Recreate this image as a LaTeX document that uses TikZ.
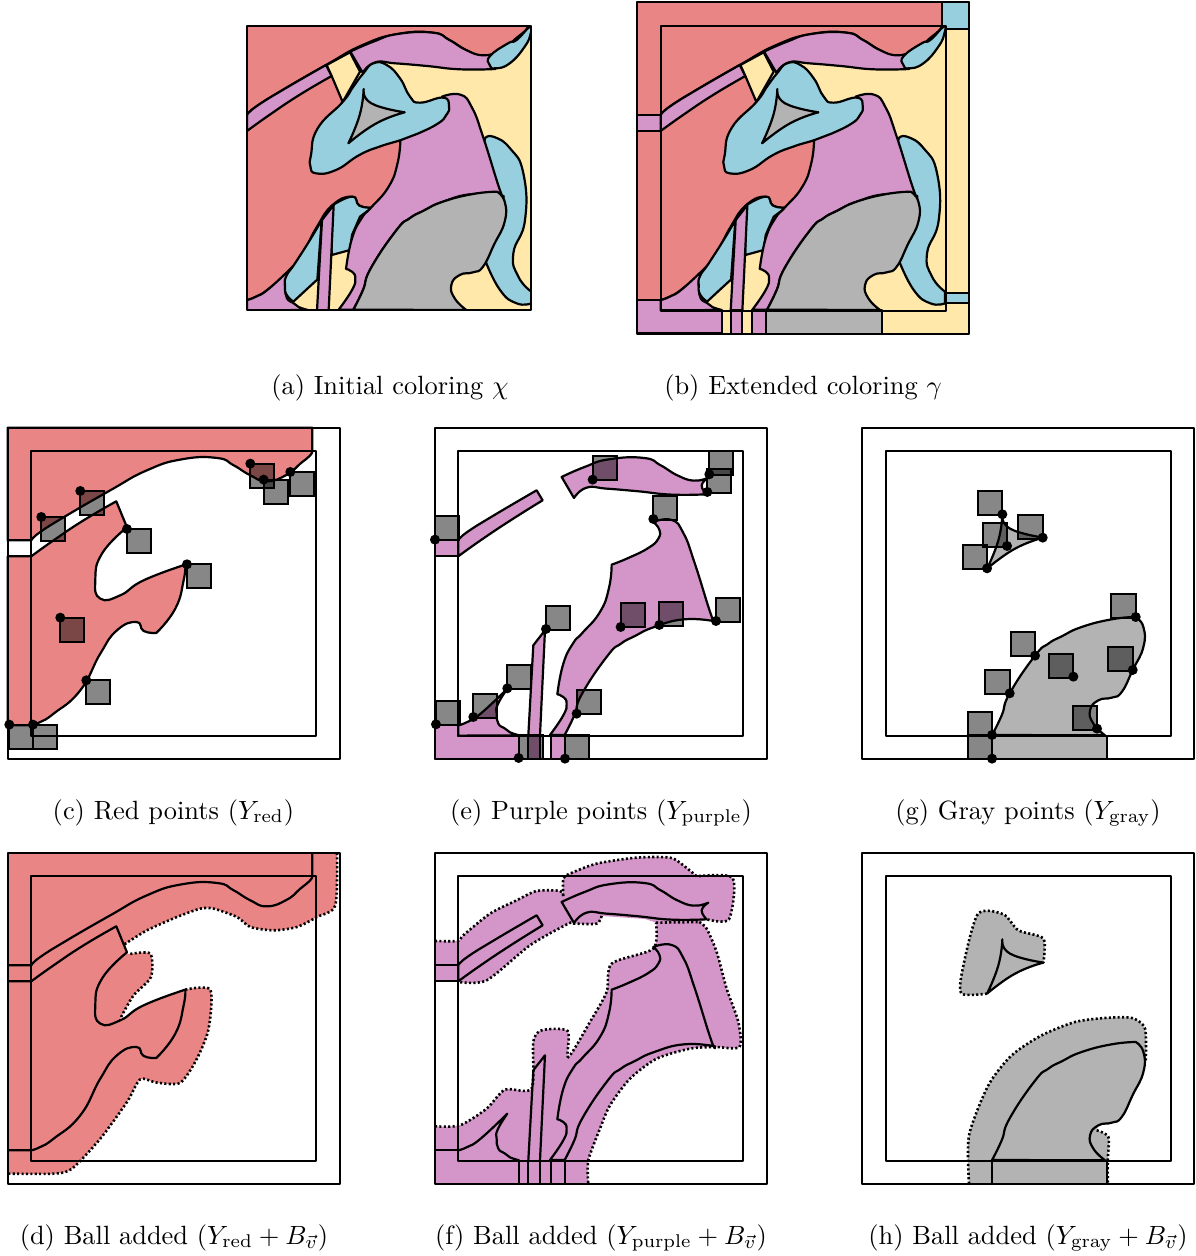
\documentclass[tikz,border=0pt]{standalone}
\usepackage{amsmath}
\definecolor{cR}{HTML}{EA8585}
\definecolor{cP}{HTML}{D495C8}
\definecolor{cB}{HTML}{98CFDE}
\definecolor{cY}{HTML}{FFE8AA}
\definecolor{cG}{HTML}{B3B3B3}
\tikzset{
  panel/.style 2 args={shift={(#1,#2)},x=0.166667pt,y=-0.166667pt},
  ln/.style={draw=black,line width=1.1pt,line join=round},
  dotl/.style={draw=black,line width=1.3pt,dash pattern=on 1.05pt off 1.15pt},
  sqr/.style={fill=black,fill opacity=.47,draw=black,line width=1.1pt},
  capt/.style={anchor=base,inner sep=0pt},
}
\newcommand\pth[2]{\edef\tmpp{\noexpand\path[#1] #2;}\tmpp}
\newcommand\sm[1]{plot[smooth,tension=.85] coordinates {#1}}
\newcommand\sd[1]{plot[smooth,tension=.45] coordinates {#1}}
% shared boundary curves (local units: 1/3 px, origin = inner square corner)
\newcommand\Ca{\sm{(843,0)(835,14)(807,37)(767,70)(707,90)(657,72)(607,42)(557,20)(452,24)(347,57)(237,117)(107,192)(27,242)(0,267)}}
\newcommand\Cb{\sm{(0,315)(67,267)(157,207)(255,150)}}
\newcommand\Cc{\sm{(287,228)(212,307)(192,387)(207,442)(267,432)(337,387)(462,340)}}
\newcommand\Cd{\sm{(462,340)(457,387)(432,472)(375,545)}}
\newcommand\Ce{\sm{(375,545)(337,539)(315,512)(257,537)(207,607)(147,717)(67,787)(27,812)(0,822)}}
\newcommand\Band{\sm{(0,267)(27,242)(107,192)(237,117)} -- (254,150) -- \sm{(254,150)(157,207)(67,267)(0,315)} -- cycle}
\newcommand\BandE{\sm{(0,267)(27,242)(107,192)(235,117)} -- (253,147) -- \sm{(253,147)(157,207)(67,267)(0,315)} -- cycle}
\newcommand\TopP{\sm{(310,77)(379,47)(452,24)(557,20)(607,42)(657,72)(707,88)(750,79)} -- \sm{(750,79)(730,102)(745,129)} -- \sm{(745,129)(640,130)(540,120)(445,112)(385,109)(347,140)} -- cycle}
\newcommand\MainP{\sm{(319,851)(348,792)(372,726)(448,613)(488,577)(528,555)(588,527)(678,504)(770,510)} -- \sm{(770,510)(758,490)(708,332)(675,245)(640,206)(585,212)} -- \sm{(585,212)(603,235)(600,262)(570,290)(510,320)(460,340)} -- \sm{(460,340)(452,410)(425,482)(372,545)(345,575)(315,637)(297,729)} -- \sm{(297,729)(315,737)(325,757)(315,792)(275,851)} -- cycle}
\newcommand\LowP{\sm{(0,822)(27,812)(67,787)(147,712)} -- \sm{(147,712)(118,760)(115,787)(120,817)(139,831)(155,843)(183,852)} -- (0,853) -- cycle}
\newcommand\Strip{(225,582) -- (260,537) -- (245,853) -- (210,853) -- cycle}
\newcommand\Gy{\sm{(319,851)(348,792)(372,726)(448,613)(488,577)(528,555)(588,527)(678,504)(750,497)} -- \sm{(750,497)(773,527)(773,587)(741,656)(708,722)(678,739)(638,747)(613,777)(623,817)(658,852)} -- cycle}
\newcommand\TriA{\sm{(350,189)(373,232)(473,259)}}
\newcommand\TriB{\sm{(473,259)(388,292)(304,352)}}
\newcommand\TriC{\sm{(304,352)(338,267)(350,189)}}
\newcommand\Tri{\TriA -- \TriB -- \TriC -- cycle}
\newcommand\RedOne{(-71,-71) -- (843,-71) -- (843,0) -- \Ca -- (-71,267) -- cycle}
\newcommand\RedTwo{(-71,315) -- (0,315) -- \Cb -- (287,228) -- \Cc -- \Cd -- \Ce -- (-71,822) -- cycle}
\newcommand\LeftFoot{(-71,822) -- (0,822) -- (0,853) -- (183,853) -- (183,922) -- (-71,922) -- cycle}
\newcommand\Frames{\draw[ln] (0,0) rectangle (855,855); \draw[ln] (-71,-71) rectangle (925,923);}
\newcommand\BasePieces{%
  \pth{fill=cR}{\RedOne}
  \pth{fill=cR}{\RedTwo}
  \pth{ln}{\Ca}
  \pth{ln}{\Ce}
  \pth{ln,fill=cP}{\Band}
  \filldraw[ln,fill=cY] (239,117) -- (309,79) -- (339,137) -- (287,228) -- (254,150) -- cycle;
  \pth{ln,fill=cP}{\TopP}
  \pth{ln,fill=cP}{\LowP}
  \pth{ln,fill=cB}{\sm{(714,337)(739,332)(789,367)(829,442)(834,582)(799,682)(814,752)(853,797)} -- (853,832) -- \sm{(853,832)(809,832)(759,792)(714,702)} -- (700,600) -- (700,400) -- cycle}
  \pth{ln,fill=cB}{\sm{(224,582)(190,640)(144,712)(118,750)(114,778)(118,805)(139,827)} -- \sm{(139,827)(204,767)(211,762)} -- cycle}
  \pth{ln,fill=cB}{\sm{(253,540)(315,512)(337,539)(375,545)} -- (339,572) -- (315,627) -- (309,672) -- (254,687) -- cycle}
  \pth{ln,fill=cP}{\MainP}
  \pth{ln,fill=cG}{\Gy}
  \pth{ln,fill=cP}{\Strip}
  \filldraw[ln,fill=cB] plot[smooth cycle,tension=.85] coordinates {(349,142)(379,112)(419,117)(459,157)(489,212)(519,230)(589,215)(606,242)(597,268)(572,293)(512,323)(462,342)(400,361)(337,387)(267,432)(207,442)(190,420)(192,387)(212,307)(287,228)(319,182)};
  \pth{ln,fill=cG}{\Tri}
  \filldraw[ln,fill=cB] plot[smooth cycle,tension=.85] coordinates {(849,2)(809,42)(783,52)(729,90)(728,117)(745,127)(788,112)(833,62)(851,22)};
}
\begin{document}
\begin{tikzpicture}[x=0.5pt,y=-0.5pt]
\path (0,0) rectangle (1195,1256);
%% (a)
\begin{scope}[panel={247}{26}]
  \fill[cY] (0,0) rectangle (853,853);
  \begin{scope}
    \clip (0,0) rectangle (853,853);
    \BasePieces
  \end{scope}
  \draw[ln] (0,0) rectangle (853,853);
\end{scope}
%% (b)
\begin{scope}[panel={660.7}{26}]
  \fill[cY] (-71,-71) rectangle (925,923);
  \filldraw[ln,fill=cB] (843,-71) rectangle (925,10);
  \filldraw[ln,fill=cB] (853,802) rectangle (925,830);
  \filldraw[ln,fill=cP] (-71,267) rectangle (0,315);
  \pth{ln,fill=cP}{\LeftFoot}
  \filldraw[ln,fill=cP] (210,853) rectangle (245,923);
  \filldraw[ln,fill=cP] (274,853) rectangle (316,923);
  \filldraw[ln,fill=cG] (316,853) rectangle (663,923);
  \draw[ln] (853,10) -- (925,10);
  \BasePieces
  \draw[ln] (-71,822) -- (0,822);
  \draw[ln] (843,-71) -- (843,0);
  \draw[ln] (-71,267) -- (0,267);
  \draw[ln] (-71,315) -- (0,315);
  \Frames
\end{scope}
%% (c)
\begin{scope}[panel={31.3}{451.3}]
  \pth{ln,fill=cR}{\RedOne}
  \pth{ln,fill=cR}{\RedTwo}
  \Frames
  \foreach \x/\y in {123/290,240/212,380/326,560/432,180/592,258/780,27/913,98/913,750/130,790/178,870/155}{
    \draw[sqr] ({\x-93},{\y-93}) rectangle ++(72,72);
  }
  \foreach \x/\y in {123/290,240/212,380/326,560/432,180/592,258/780,27/913,98/913,750/130,790/178,870/155}{
    \fill ({\x-93},{\y-93}) circle[radius=15];
  }
\end{scope}
%% (e)
\begin{scope}[panel={458.3}{451.3}]
  \filldraw[ln,fill=cP] (-71,267) rectangle (0,315);
  \pth{ln,fill=cP}{\LeftFoot}
  \filldraw[ln,fill=cP] (210,853) rectangle (245,923);
  \filldraw[ln,fill=cP] (277,853) rectangle (320,923);
  \pth{ln,fill=cP}{\BandE}
  \pth{ln,fill=cP}{\TopP}
  \pth{ln,fill=cP}{\LowP}
  \pth{ln,fill=cP}{\MainP}
  \filldraw[ln,fill=cP] (225,582) -- (260,537) -- (245,853) -- (210,853) -- cycle;
  \Frames
  \foreach \x/\y in {488/178,838/165,832/217,670/298,15/360,572/620,688/616,858/604,348/628,232/806,130/892,18/914,440/882,266/1015,405/1017}{
    \draw[sqr] ({\x-85},{\y-93}) rectangle ++(72,-72);
  }
  \foreach \x/\y in {488/178,838/162,832/215,670/296,15/358,572/620,688/614,858/602,348/626,232/804,130/890,18/912,440/880,266/1013,405/1015}{
    \fill ({\x-85},{\y-93}) circle[radius=15];
  }
\end{scope}
%% (g)
\begin{scope}[panel={885.7}{451.3}]
  \filldraw[ln,fill=cG] (319,853) rectangle (665,923);
  \pth{ln,fill=cG}{\Gy}
  \pth{ln,fill=cG}{\Tri}
  \Frames
  \foreach \x/\y in {442/284,563/356,456/380,396/446,842/592,540/708,655/772,833/752,464/822,726/928,411/946,411/1017}{
    \draw[sqr] ({\x-92},{\y-93}) rectangle ++(-73,-72);
  }
  \foreach \x/\y in {442/282,563/352,456/377,396/444,842/590,540/706,655/769,833/749,464/819,726/925,411/944,411/1015}{
    \fill ({\x-92},{\y-93}) circle[radius=15];
  }
\end{scope}
%% (d)
\begin{scope}[panel={31.3}{876.3}]
  \newcommand\DA{\sd{(917,-70)(912,87)(857,122)(797,152)(727,162)(657,152)(617,122)(547,97)(507,97)(437,122)(347,162)(278,205)}}
  \newcommand\DB{\sd{(297,233)(357,232)(359,302)(307,357)(272,417)(267,432)}}
  \newcommand\DC{\sd{(462,340)(537,340)(532,457)(497,547)(447,619)(377,619)(327,609)(287,677)(207,787)(122,877)(67,892)(-68,892)}}
  \pth{fill=cR}{(-71,-71) -- \DA -- (287,232) -- \DB -- (337,387) -- \DC -- cycle}
  \pth{dotl}{\DA} \pth{dotl}{\DB} \pth{dotl}{\DC}
  \pth{ln}{(843,-71) -- (843,0) -- \Ca -- (-71,267)}
  \pth{ln}{(-71,315) -- (0,315) -- \Cb -- (287,228) -- \Cc -- \Cd -- \Ce -- (-71,822)}
  \Frames
\end{scope}
%% (f)
\begin{scope}[panel={458.3}{876.3}]
  \newcommand\FA{\sd{(-70,194)(0,194)(15,177)(95,112)(175,72)(235,44)(305,44)(315,62)} -- \sd{(315,62)(315,7)(335,-8)(415,-38)(535,-56)(635,-56)(675,-33)(715,0)} -- \sd{(715,0)(823,5)(812,129)(745,129)}}
  \newcommand\FB{\sd{(723,137)(745,157)(775,227)(805,337)(840,437)(843,512)(770,512)(695,517)(595,547)(515,607)(455,687)(425,757)(390,852)(390,922)}}
  \newcommand\FC{\sd{(-70,750)(5,747)(85,697)(140,640)(220,637)(225,497)(250,462)(328,464)(330,542)(395,437)(445,347)(460,262)(585,217)(593,139)}}
  \newcommand\FD{\sd{(593,139)(723,137)}}
  \newcommand\FE{\sd{(430,119)(415,142)(347,142)(330,142)(215,207)(85,312)(0,317)}}
  \pth{fill=cP}{\FA -- \FB -- (-70,922) -- \FC -- (560,128) -- \FE -- (-70,317) -- cycle}
  \pth{dotl}{\FA} \pth{dotl}{\FB} \pth{dotl}{\FC} \pth{dotl}{\FD} \pth{dotl}{\FE}
  \draw[ln] (-71,267) -- (0,267);
  \draw[ln] (-71,315) -- (0,315);
  \draw[ln] (-71,822) -- (0,822);
  \pth{ln}{\BandE}
  \pth{ln}{\TopP}
  \pth{ln}{\MainP}
  \pth{ln}{\sm{(0,822)(27,812)(67,787)(147,712)} -- \sm{(147,712)(118,760)(115,787)(120,817)(139,831)(155,843)(183,852)}}
  \draw[ln] (225,582) -- (260,537) -- (245,853) (225,582) -- (210,853);
  \foreach \x in {183,210,245,277,320}{\draw[ln] (\x,853) -- (\x,923);}
  \Frames
\end{scope}
%% (h)
\begin{scope}[panel={885.7}{876.3}]
  \newcommand\HA{\sd{(304,352)(228,352)(230,282)(276,114)(353,114)(398,162)(473,187)(473,259)}}
  \newcommand\HB{\sd{(250,922)(250,777)(308,627)(378,537)(468,477)(568,437)(658,425)(738,425)(778,457)(780,557)}}
  \newcommand\HC{\sd{(633,762)(668,782)(666,852)(666,922)}}
  \pth{fill=cG}{\HA -- \TriB -- cycle}
  \pth{dotl}{\HA}
  \pth{ln}{\Tri}
  \pth{fill=cG}{\HB -- \sm{(773,587)(741,656)(708,722)(678,739)(638,747)} -- \HC -- cycle}
  \pth{dotl}{\HB} \pth{dotl}{\HC}
  \pth{fill=cG}{\Gy}
  \pth{ln}{\Gy}
  \draw[ln] (319,853) -- (319,923);
  \draw[ln] (665,853) -- (665,923);
  \Frames
\end{scope}
%% captions
\node[capt] (capa) at (390,394) {\scalebox{1.32}{(a) Initial coloring $\chi$}};
\node[capt] (capb) at (803,394) {\scalebox{1.32}{(b) Extended coloring $\gamma$}};
\node[capt] (capc) at (173.5,819) {\scalebox{1.32}{(c) Red points ($Y_{\mathrm{red}}$)}};
\node[capt] (cape) at (601,819) {\scalebox{1.32}{(e) Purple points ($Y_{\mathrm{purple}}$)}};
\node[capt] (capg) at (1028,819) {\scalebox{1.32}{(g) Gray points ($Y_{\mathrm{gray}}$)}};
\node[capt] (capd) at (174,1244) {\scalebox{1.32}{(d) Ball added ($Y_{\mathrm{red}}+B_{\vec{v}}$)}};
\node[capt] (capf) at (601,1244) {\scalebox{1.32}{(f) Ball added ($Y_{\mathrm{purple}}+B_{\vec{v}}$)}};
\node[capt] (caph) at (1028,1244) {\scalebox{1.32}{(h) Ball added ($Y_{\mathrm{gray}}+B_{\vec{v}}$)}};
\end{tikzpicture}
\end{document}
